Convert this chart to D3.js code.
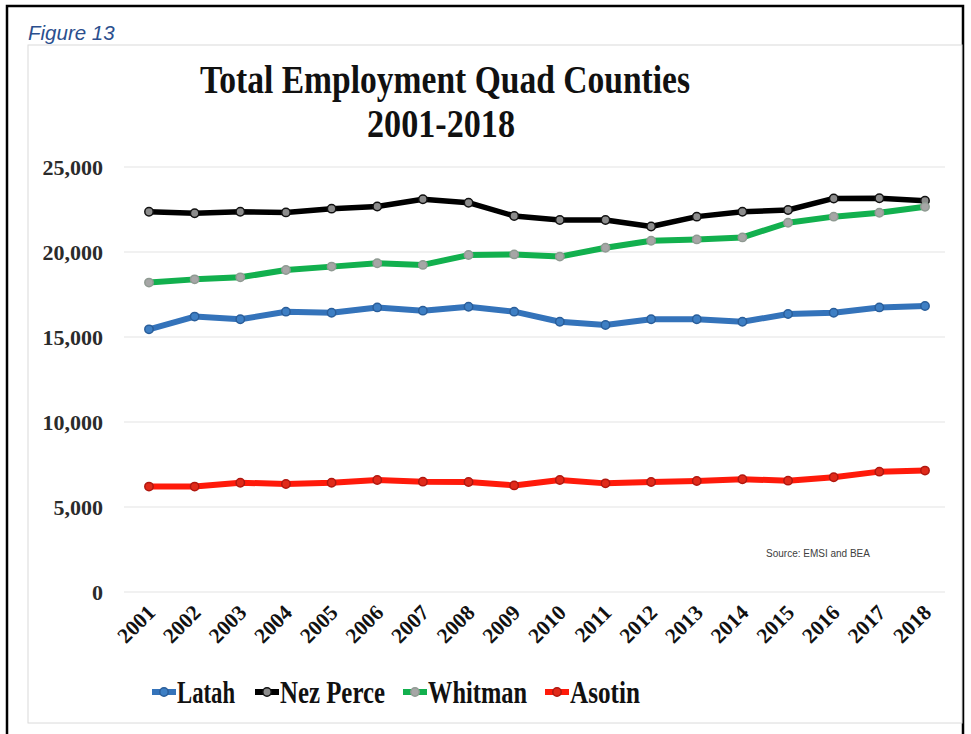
<!DOCTYPE html>
<html>
<head>
<meta charset="utf-8">
<script src="https://cdn.jsdelivr.net/npm/d3@7"></script>
<style>
  html, body { margin: 0; padding: 0; background: #fff; }
  svg { display: block; }
</style>
</head>
<body>
<svg id="chart" width="971" height="734"></svg>
<script>
// Total employment by county, 2001-2018
const years = ["2001","2002","2003","2004","2005","2006","2007","2008","2009",
               "2010","2011","2012","2013","2014","2015","2016","2017","2018"];
const latah    = [15450,16200,16040,16490,16430,16740,16550,16780,16490,15900,15710,16040,16040,15900,16350,16430,16740,16820];
const nezPerce = [22370,22280,22370,22330,22550,22680,23100,22900,22120,21880,21880,21500,22080,22370,22470,23150,23160,23020];
const whitman  = [18200,18390,18510,18940,19140,19340,19240,19820,19860,19730,20250,20660,20740,20860,21720,22080,22310,22660];
const asotin   = [6200,6200,6430,6350,6430,6590,6490,6470,6270,6590,6390,6470,6530,6630,6550,6750,7080,7140];
const yTicks   = [0,5000,10000,15000,20000,25000];

const seriesNames = ["Latah","Nez Perce","Whitman","Asotin"];
const seriesData  = [latah, nezPerce, whitman, asotin];
const lineColors  = ["#3473BA","#000000","#12B04E","#FF1A0A"];
const markFill    = ["#3E7FC4","#8C8C8C","#A6A6A6","#E02A1A"];
const markStroke  = ["#2A5E9A","#111111","#8F9A92","#B01810"];

const svg = d3.select("#chart");

// outer frame (left, top, right)
svg.append("path")
  .attr("d","M7,734 V6 H963 V734")
  .attr("fill","none").attr("stroke","#000").attr("stroke-width",2.5);

// chart area box
svg.append("rect")
  .attr("x",28).attr("y",45).attr("width",934).attr("height",678)
  .attr("fill","#fff").attr("stroke","#DADADA").attr("stroke-width",1);

svg.append("text")
  .attr("x",28).attr("y",40)
  .attr("font-family","'Liberation Sans', Arial, sans-serif")
  .attr("font-style","italic")
  .attr("font-size",20.5)
  .attr("fill","#2B4F8E")
  .text("Figure 13");

const x = d3.scalePoint().domain(years).range([149, 925]);
const y = d3.scaleLinear().domain([0, 25000]).range([592, 167]);

// title
const titleFont = "'Liberation Serif', 'Times New Roman', serif";
svg.append("text")
  .attr("x",445).attr("y",93).attr("text-anchor","middle")
  .attr("font-family",titleFont).attr("font-weight","bold")
  .attr("font-size",39).attr("fill","#111")
  .attr("textLength",490).attr("lengthAdjust","spacingAndGlyphs")
  .text("Total Employment Quad Counties");
svg.append("text")
  .attr("x",441).attr("y",137).attr("text-anchor","middle")
  .attr("font-family",titleFont).attr("font-weight","bold")
  .attr("font-size",39).attr("fill","#111")
  .attr("textLength",148).attr("lengthAdjust","spacingAndGlyphs")
  .text("2001-2018");

// gridlines
svg.append("g")
  .selectAll("line").data(yTicks).join("line")
  .attr("x1",124).attr("x2",945)
  .attr("y1",d=>y(d)).attr("y2",d=>y(d))
  .attr("stroke","#E3E3E3").attr("stroke-width",1.2);

// y axis
const yAxis = svg.append("g")
  .attr("transform","translate(110,0)")
  .call(d3.axisLeft(y).tickValues(yTicks).tickSize(0).tickPadding(7)
        .tickFormat(d3.format(",")));
yAxis.select(".domain").remove();
yAxis.selectAll("text")
  .attr("font-family",titleFont).attr("font-weight","bold")
  .attr("font-size",22).attr("fill","#2b2b2b");

// x axis with rotated labels
const xAxis = svg.append("g")
  .attr("transform","translate(0,592)")
  .call(d3.axisBottom(x).tickSize(0).tickPadding(0));
xAxis.select(".domain").remove();
xAxis.selectAll("text")
  .attr("font-family",titleFont).attr("font-weight","bold")
  .attr("font-size",21.5).attr("fill","#111")
  .attr("text-anchor","end")
  .attr("dy",0)
  .attr("transform","translate(7,22) rotate(-45)");

// series lines and markers
const line = d3.line().x((d,i)=>x(years[i])).y(d=>y(d));
seriesData.forEach((vals,k)=>{
  const g = svg.append("g");
  g.append("path").datum(vals)
    .attr("d",line)
    .attr("fill","none")
    .attr("stroke",lineColors[k])
    .attr("stroke-width",k===1 ? 5.5 : 6)
    .attr("stroke-linejoin","round");
  g.selectAll("circle").data(vals).join("circle")
    .attr("cx",(d,i)=>x(years[i])).attr("cy",d=>y(d))
    .attr("r",4.2)
    .attr("fill",markFill[k])
    .attr("stroke",markStroke[k]).attr("stroke-width",1.5);
});

// source note
svg.append("text")
  .attr("x",818).attr("y",557).attr("text-anchor","middle")
  .attr("font-family","'Liberation Sans', Arial, sans-serif")
  .attr("font-size",10).attr("fill","#404040")
  .text("Source: EMSI and BEA");

// legend
const legendX = [152, 255, 403, 545];
const legendW = [58, 105, 99, 70];
const legend = svg.append("g");
seriesNames.forEach((name,k)=>{
  const lg = legend.append("g").attr("transform",`translate(${legendX[k]},692)`);
  lg.append("line").attr("x1",0).attr("x2",24).attr("y1",0).attr("y2",0)
    .attr("stroke",lineColors[k]).attr("stroke-width",6);
  lg.append("circle").attr("cx",12).attr("cy",0).attr("r",4.2)
    .attr("fill",markFill[k]).attr("stroke",markStroke[k]).attr("stroke-width",1.5);
  lg.append("text").attr("x",25).attr("y",11)
    .attr("font-family",titleFont).attr("font-weight","bold")
    .attr("font-size",31).attr("fill","#111")
    .attr("textLength",legendW[k]).attr("lengthAdjust","spacingAndGlyphs")
    .text(name);
});
</script>
</body>
</html>
